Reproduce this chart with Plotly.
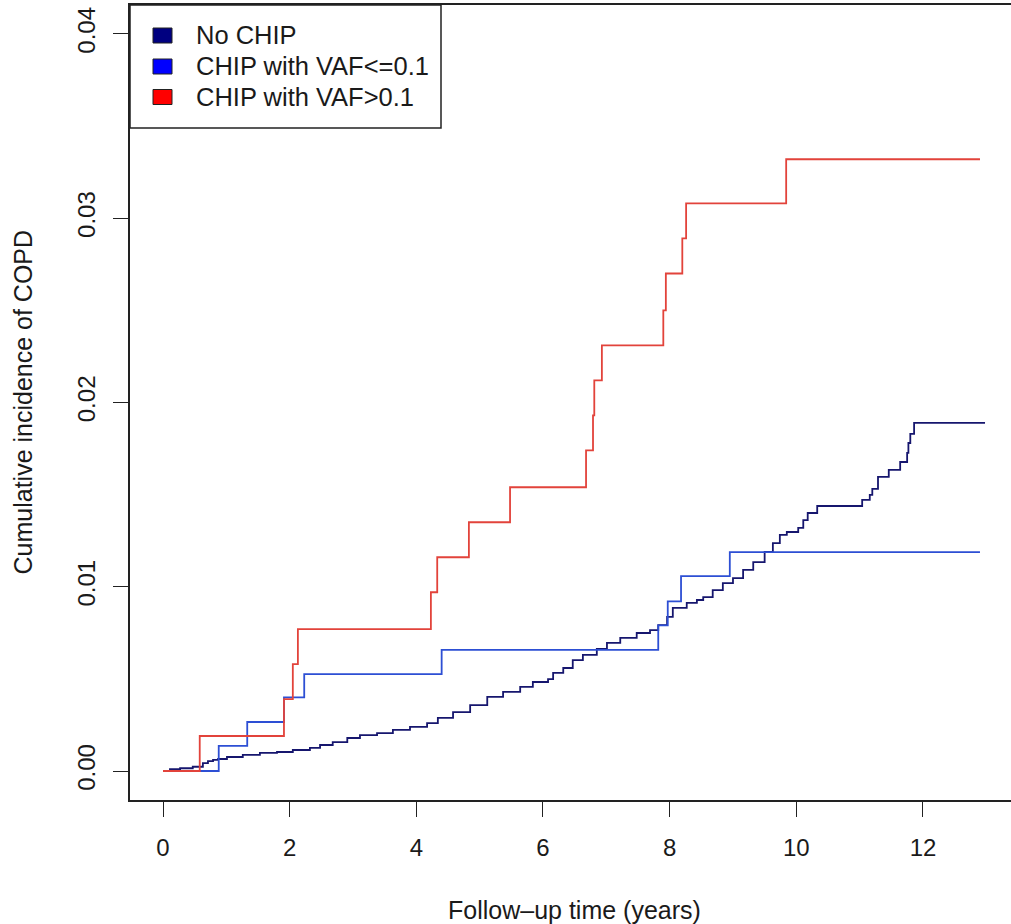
import plotly.graph_objects as go

# ---------------- data ----------------
series_names = ["No CHIP", "CHIP with VAF<=0.1", "CHIP with VAF>0.1"]

navy_t = [0, 0.11, 0.27, 0.47, 0.63, 0.71, 0.79, 0.87, 1.01, 1.26,
          1.53, 1.80, 2.05, 2.32, 2.48, 2.68, 2.91, 3.11, 3.38, 3.63,
          3.90, 4.17, 4.34, 4.58, 4.85, 5.12, 5.37, 5.64, 5.84, 6.08,
          6.16, 6.32, 6.47, 6.63, 6.85, 7.01, 7.22, 7.48, 7.69, 7.82,
          7.96, 8.05, 8.27, 8.43, 8.53, 8.68, 8.84, 9.00, 9.16, 9.32,
          9.50, 9.63, 9.74, 9.85, 10.03, 10.11, 10.18, 10.33, 11.04, 11.16,
          11.20, 11.29, 11.46, 11.64, 11.75, 11.77, 11.80, 11.86, 12.98]
navy_v = [0, 0.0001, 0.00015, 0.00023, 0.00043, 0.00054, 0.0006, 0.00065, 0.00076, 0.00087,
          0.00098, 0.00103, 0.00114, 0.00125, 0.00141, 0.00157, 0.00179, 0.00195, 0.00206, 0.00223,
          0.00239, 0.0026, 0.00288, 0.0032, 0.00358, 0.00402, 0.00429, 0.00456, 0.00483, 0.00499,
          0.00532, 0.00559, 0.00602, 0.0063, 0.00662, 0.00695, 0.00722, 0.00749, 0.00765, 0.00792,
          0.00836, 0.00885, 0.00912, 0.00928, 0.00944, 0.00982, 0.0102, 0.01047, 0.01091, 0.01134,
          0.01189, 0.01237, 0.01281, 0.01297, 0.01319, 0.01362, 0.014, 0.01438, 0.01471, 0.01498,
          0.01531, 0.01596, 0.01634, 0.01677, 0.01726, 0.0178, 0.01829, 0.01889, 0.01889]

blue_t = [0, 0.88, 1.33, 1.91, 2.23, 4.40, 7.82, 7.97, 8.18, 8.95, 12.90]
blue_v = [0, 0.00136, 0.00266, 0.0040, 0.00526, 0.00657, 0.0079, 0.0092, 0.01058, 0.01188, 0.01188]

red_t = [0, 0.58, 1.91, 2.05, 2.13, 4.23, 4.33, 4.83, 5.48, 6.68, 6.79, 6.81, 6.93,
         7.90, 7.94, 8.20, 8.26, 9.84, 12.90]
red_v = [0, 0.0019, 0.0039, 0.0058, 0.0077, 0.0097, 0.0116, 0.0135, 0.0154, 0.0174, 0.0193,
         0.0212, 0.0231, 0.0250, 0.0270, 0.0289, 0.0308, 0.0332, 0.0332]

x_ticks = [0, 2, 4, 6, 8, 10, 12]
y_ticks = [0.00, 0.01, 0.02, 0.03, 0.04]
y_tick_text = ["0.00", "0.01", "0.02", "0.03", "0.04"]

x_title = "Follow\u2013up time (years)"
y_title = "Cumulative incidence of COPD"

line_colors = ["#16166e", "#2d4fd4", "#e2433b"]
legend_colors = ["#000080", "#0000ff", "#ff0000"]

# ---------------- layout geometry ----------------
W, H = 1011, 924
ML, MR, MT, MB = 130, 0, 5, 124
PW, PH = W - ML - MR, H - MT - MB

def px(xp):
    return (xp - ML) / PW

def py(yp):
    return (H - MB - yp) / PH

FONT = "Liberation Sans, Arial, Helvetica, sans-serif"
TXT = "#1a1a1a"

fig = go.Figure()
for t, v, c, n in [(navy_t, navy_v, line_colors[0], series_names[0]),
                   (blue_t, blue_v, line_colors[1], series_names[1]),
                   (red_t, red_v, line_colors[2], series_names[2])]:
    fig.add_trace(go.Scatter(x=t, y=v, mode="lines", line=dict(color=c, width=1.8, shape="hv"),
                             name=n, showlegend=False))

fig.update_layout(
    width=W, height=H,
    margin=dict(l=ML, r=MR, t=MT, b=MB, pad=0),
    paper_bgcolor="white", plot_bgcolor="white",
    font=dict(family=FONT, size=24, color=TXT),
    showlegend=False,
)
fig.update_xaxes(range=[-0.521, 13.39], tickvals=x_ticks, ticktext=[str(v) for v in x_ticks],
                 ticks="outside", ticklen=15, tickwidth=1.3, tickcolor="#222",
                 showline=True, linecolor="#222", linewidth=1.5, mirror=True,
                 showgrid=False, zeroline=False, ticklabelstandoff=10,
                 tickfont=dict(size=24, color=TXT))
fig.update_yaxes(range=[-0.001574, 0.04157], tickvals=y_ticks, ticktext=y_tick_text,
                 ticks="outside", ticklen=15, tickwidth=1.3, tickcolor="#222",
                 showline=True, linecolor="#222", linewidth=1.5, mirror=False,
                 showgrid=False, zeroline=False, tickangle=-90, ticklabelstandoff=9,
                 tickfont=dict(size=24, color=TXT))

# axis titles
fig.add_annotation(text=x_title, xref="paper", yref="paper", x=px(574), y=py(910),
                   xanchor="center", yanchor="middle", showarrow=False,
                   font=dict(size=25, color=TXT, family=FONT))
fig.add_annotation(text=y_title, xref="paper", yref="paper", x=px(22), y=0.5,
                   xanchor="center", yanchor="middle", showarrow=False, textangle=-90,
                   font=dict(size=25, color=TXT, family=FONT))

# legend box
fig.add_shape(type="rect", xref="paper", yref="paper", x0=px(130), x1=px(441), y0=py(128), y1=py(5),
              line=dict(color="#222", width=1.5), fillcolor="white", layer="above")
row_y = [35.5, 66.5, 97]
for name, col, ry in zip(series_names, legend_colors, row_y):
    fig.add_shape(type="rect", xref="paper", yref="paper", x0=px(153), x1=px(172),
                  y0=py(ry + 7.5), y1=py(ry - 7.5), line=dict(color="#222", width=1),
                  fillcolor=col, layer="above")
    fig.add_annotation(text=name, xref="paper", yref="paper", x=px(194), y=py(ry),
                       xanchor="left", yanchor="middle", showarrow=False,
                       font=dict(size=25.5, color=TXT, family=FONT))

fig.write_html("out.html")
